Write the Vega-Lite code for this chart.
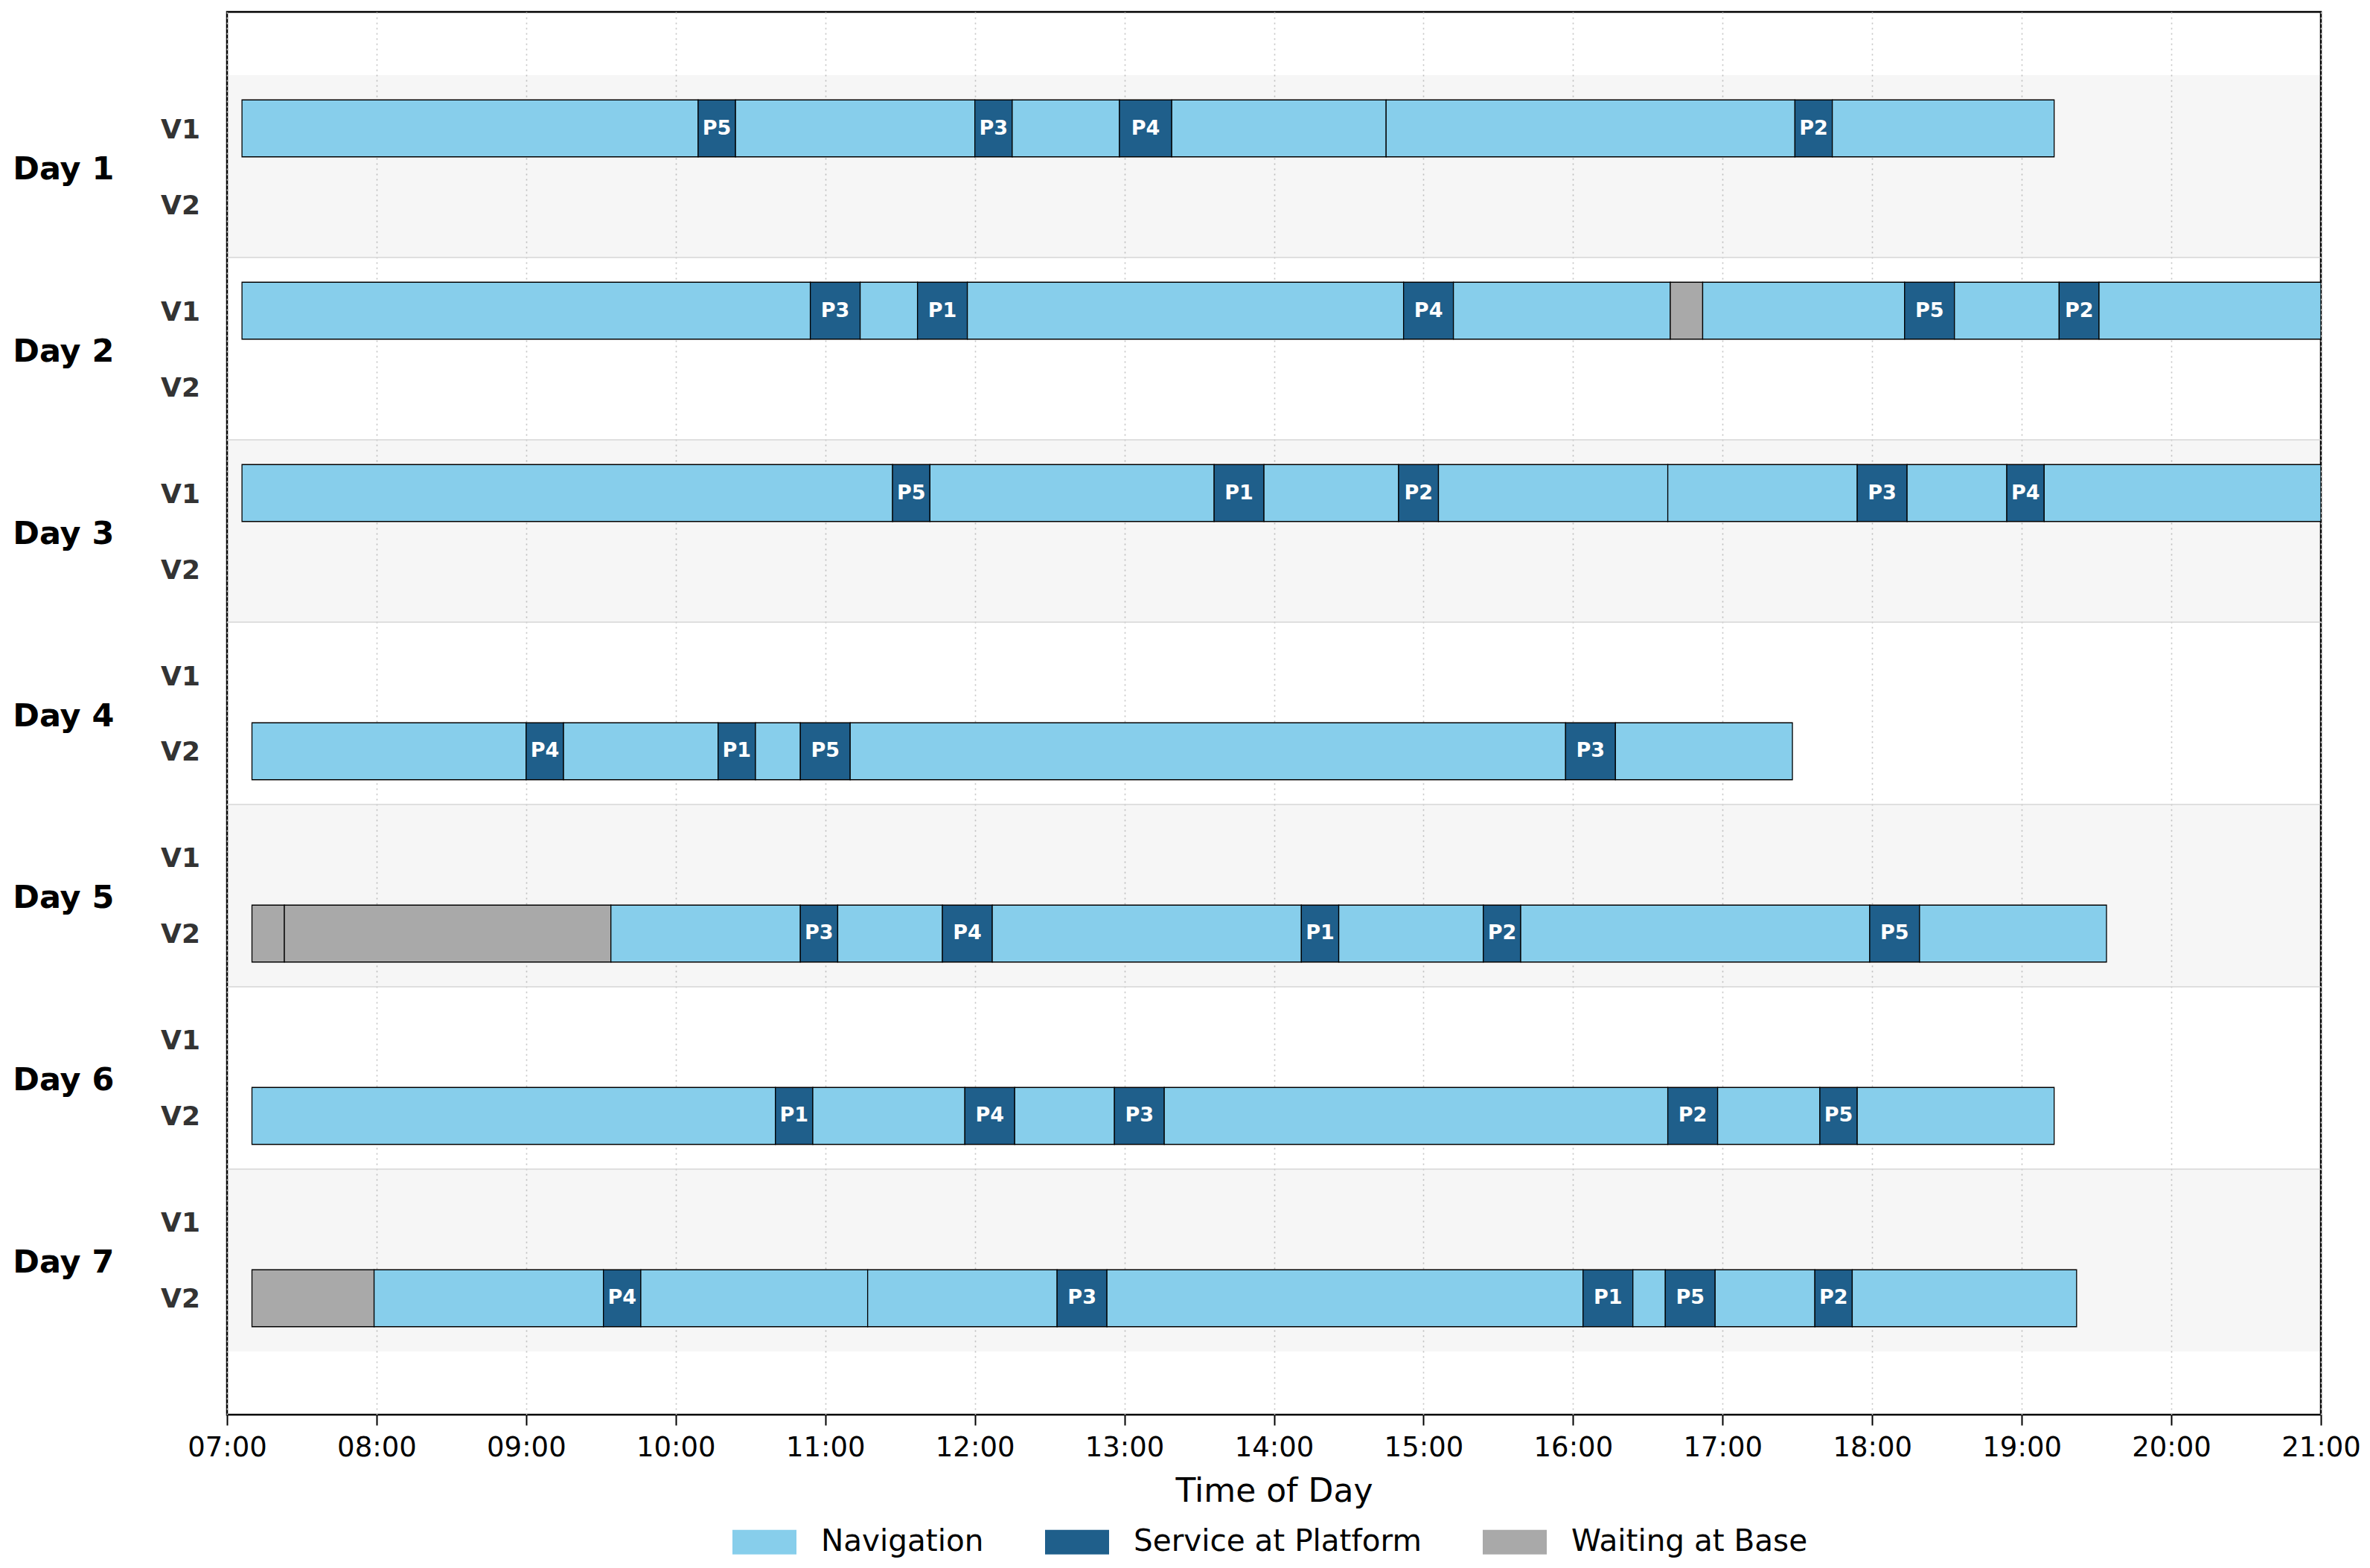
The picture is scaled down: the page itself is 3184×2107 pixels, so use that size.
{
  "$schema": "https://vega.github.io/schema/vega-lite/v6.json",
  "width": 2813,
  "height": 1885,
  "autosize": {"type": "none"},
  "padding": {"left": 305, "top": 16, "right": 66, "bottom": 206},
  "background": "white",
  "config": {"font": "DejaVu Sans", "view": {"stroke": "black", "strokeWidth": 2.5}},
  "resolve": {"axis": {"x": "independent", "y": "independent"}},
  "data": {
    "format": {"parse": {"s": "date:'%H:%M'", "e": "date:'%H:%M'"}},
    "values": [
      {"d": "Day 1", "v": "V1", "s": "07:06", "e": "10:09", "a": "Navigation", "p": ""},
      {"d": "Day 1", "v": "V1", "s": "10:09", "e": "10:24", "a": "Service at Platform", "p": "P5"},
      {"d": "Day 1", "v": "V1", "s": "10:24", "e": "12:00", "a": "Navigation", "p": ""},
      {"d": "Day 1", "v": "V1", "s": "12:00", "e": "12:15", "a": "Service at Platform", "p": "P3"},
      {"d": "Day 1", "v": "V1", "s": "12:15", "e": "12:58", "a": "Navigation", "p": ""},
      {"d": "Day 1", "v": "V1", "s": "12:58", "e": "13:19", "a": "Service at Platform", "p": "P4"},
      {"d": "Day 1", "v": "V1", "s": "13:19", "e": "14:45", "a": "Navigation", "p": ""},
      {"d": "Day 1", "v": "V1", "s": "14:45", "e": "17:29", "a": "Navigation", "p": ""},
      {"d": "Day 1", "v": "V1", "s": "17:29", "e": "17:44", "a": "Service at Platform", "p": "P2"},
      {"d": "Day 1", "v": "V1", "s": "17:44", "e": "19:13", "a": "Navigation", "p": ""},

      {"d": "Day 2", "v": "V1", "s": "07:06", "e": "10:54", "a": "Navigation", "p": ""},
      {"d": "Day 2", "v": "V1", "s": "10:54", "e": "11:14", "a": "Service at Platform", "p": "P3"},
      {"d": "Day 2", "v": "V1", "s": "11:14", "e": "11:37", "a": "Navigation", "p": ""},
      {"d": "Day 2", "v": "V1", "s": "11:37", "e": "11:57", "a": "Service at Platform", "p": "P1"},
      {"d": "Day 2", "v": "V1", "s": "11:57", "e": "14:52", "a": "Navigation", "p": ""},
      {"d": "Day 2", "v": "V1", "s": "14:52", "e": "15:12", "a": "Service at Platform", "p": "P4"},
      {"d": "Day 2", "v": "V1", "s": "15:12", "e": "16:39", "a": "Navigation", "p": ""},
      {"d": "Day 2", "v": "V1", "s": "16:39", "e": "16:52", "a": "Waiting at Base", "p": ""},
      {"d": "Day 2", "v": "V1", "s": "16:52", "e": "18:13", "a": "Navigation", "p": ""},
      {"d": "Day 2", "v": "V1", "s": "18:13", "e": "18:33", "a": "Service at Platform", "p": "P5"},
      {"d": "Day 2", "v": "V1", "s": "18:33", "e": "19:15", "a": "Navigation", "p": ""},
      {"d": "Day 2", "v": "V1", "s": "19:15", "e": "19:31", "a": "Service at Platform", "p": "P2"},
      {"d": "Day 2", "v": "V1", "s": "19:31", "e": "21:00", "a": "Navigation", "p": ""},

      {"d": "Day 3", "v": "V1", "s": "07:06", "e": "11:27", "a": "Navigation", "p": ""},
      {"d": "Day 3", "v": "V1", "s": "11:27", "e": "11:42", "a": "Service at Platform", "p": "P5"},
      {"d": "Day 3", "v": "V1", "s": "11:42", "e": "13:36", "a": "Navigation", "p": ""},
      {"d": "Day 3", "v": "V1", "s": "13:36", "e": "13:56", "a": "Service at Platform", "p": "P1"},
      {"d": "Day 3", "v": "V1", "s": "13:56", "e": "14:50", "a": "Navigation", "p": ""},
      {"d": "Day 3", "v": "V1", "s": "14:50", "e": "15:06", "a": "Service at Platform", "p": "P2"},
      {"d": "Day 3", "v": "V1", "s": "15:06", "e": "16:38", "a": "Navigation", "p": ""},
      {"d": "Day 3", "v": "V1", "s": "16:38", "e": "17:54", "a": "Navigation", "p": ""},
      {"d": "Day 3", "v": "V1", "s": "17:54", "e": "18:14", "a": "Service at Platform", "p": "P3"},
      {"d": "Day 3", "v": "V1", "s": "18:14", "e": "18:54", "a": "Navigation", "p": ""},
      {"d": "Day 3", "v": "V1", "s": "18:54", "e": "19:09", "a": "Service at Platform", "p": "P4"},
      {"d": "Day 3", "v": "V1", "s": "19:09", "e": "21:00", "a": "Navigation", "p": ""},

      {"d": "Day 4", "v": "V2", "s": "07:10", "e": "09:00", "a": "Navigation", "p": ""},
      {"d": "Day 4", "v": "V2", "s": "09:00", "e": "09:15", "a": "Service at Platform", "p": "P4"},
      {"d": "Day 4", "v": "V2", "s": "09:15", "e": "10:17", "a": "Navigation", "p": ""},
      {"d": "Day 4", "v": "V2", "s": "10:17", "e": "10:32", "a": "Service at Platform", "p": "P1"},
      {"d": "Day 4", "v": "V2", "s": "10:32", "e": "10:50", "a": "Navigation", "p": ""},
      {"d": "Day 4", "v": "V2", "s": "10:50", "e": "11:10", "a": "Service at Platform", "p": "P5"},
      {"d": "Day 4", "v": "V2", "s": "11:10", "e": "15:57", "a": "Navigation", "p": ""},
      {"d": "Day 4", "v": "V2", "s": "15:57", "e": "16:17", "a": "Service at Platform", "p": "P3"},
      {"d": "Day 4", "v": "V2", "s": "16:17", "e": "17:28", "a": "Navigation", "p": ""},

      {"d": "Day 5", "v": "V2", "s": "07:10", "e": "07:23", "a": "Waiting at Base", "p": ""},
      {"d": "Day 5", "v": "V2", "s": "07:23", "e": "09:34", "a": "Waiting at Base", "p": ""},
      {"d": "Day 5", "v": "V2", "s": "09:34", "e": "10:50", "a": "Navigation", "p": ""},
      {"d": "Day 5", "v": "V2", "s": "10:50", "e": "11:05", "a": "Service at Platform", "p": "P3"},
      {"d": "Day 5", "v": "V2", "s": "11:05", "e": "11:47", "a": "Navigation", "p": ""},
      {"d": "Day 5", "v": "V2", "s": "11:47", "e": "12:07", "a": "Service at Platform", "p": "P4"},
      {"d": "Day 5", "v": "V2", "s": "12:07", "e": "14:11", "a": "Navigation", "p": ""},
      {"d": "Day 5", "v": "V2", "s": "14:11", "e": "14:26", "a": "Service at Platform", "p": "P1"},
      {"d": "Day 5", "v": "V2", "s": "14:26", "e": "15:24", "a": "Navigation", "p": ""},
      {"d": "Day 5", "v": "V2", "s": "15:24", "e": "15:39", "a": "Service at Platform", "p": "P2"},
      {"d": "Day 5", "v": "V2", "s": "15:39", "e": "17:59", "a": "Navigation", "p": ""},
      {"d": "Day 5", "v": "V2", "s": "17:59", "e": "18:19", "a": "Service at Platform", "p": "P5"},
      {"d": "Day 5", "v": "V2", "s": "18:19", "e": "19:34", "a": "Navigation", "p": ""},

      {"d": "Day 6", "v": "V2", "s": "07:10", "e": "10:40", "a": "Navigation", "p": ""},
      {"d": "Day 6", "v": "V2", "s": "10:40", "e": "10:55", "a": "Service at Platform", "p": "P1"},
      {"d": "Day 6", "v": "V2", "s": "10:55", "e": "11:56", "a": "Navigation", "p": ""},
      {"d": "Day 6", "v": "V2", "s": "11:56", "e": "12:16", "a": "Service at Platform", "p": "P4"},
      {"d": "Day 6", "v": "V2", "s": "12:16", "e": "12:56", "a": "Navigation", "p": ""},
      {"d": "Day 6", "v": "V2", "s": "12:56", "e": "13:16", "a": "Service at Platform", "p": "P3"},
      {"d": "Day 6", "v": "V2", "s": "13:16", "e": "16:38", "a": "Navigation", "p": ""},
      {"d": "Day 6", "v": "V2", "s": "16:38", "e": "16:58", "a": "Service at Platform", "p": "P2"},
      {"d": "Day 6", "v": "V2", "s": "16:58", "e": "17:39", "a": "Navigation", "p": ""},
      {"d": "Day 6", "v": "V2", "s": "17:39", "e": "17:54", "a": "Service at Platform", "p": "P5"},
      {"d": "Day 6", "v": "V2", "s": "17:54", "e": "19:13", "a": "Navigation", "p": ""},

      {"d": "Day 7", "v": "V2", "s": "07:10", "e": "07:59", "a": "Waiting at Base", "p": ""},
      {"d": "Day 7", "v": "V2", "s": "07:59", "e": "09:31", "a": "Navigation", "p": ""},
      {"d": "Day 7", "v": "V2", "s": "09:31", "e": "09:46", "a": "Service at Platform", "p": "P4"},
      {"d": "Day 7", "v": "V2", "s": "09:46", "e": "11:17", "a": "Navigation", "p": ""},
      {"d": "Day 7", "v": "V2", "s": "11:17", "e": "12:33", "a": "Navigation", "p": ""},
      {"d": "Day 7", "v": "V2", "s": "12:33", "e": "12:53", "a": "Service at Platform", "p": "P3"},
      {"d": "Day 7", "v": "V2", "s": "12:53", "e": "16:04", "a": "Navigation", "p": ""},
      {"d": "Day 7", "v": "V2", "s": "16:04", "e": "16:24", "a": "Service at Platform", "p": "P1"},
      {"d": "Day 7", "v": "V2", "s": "16:24", "e": "16:37", "a": "Navigation", "p": ""},
      {"d": "Day 7", "v": "V2", "s": "16:37", "e": "16:57", "a": "Service at Platform", "p": "P5"},
      {"d": "Day 7", "v": "V2", "s": "16:57", "e": "17:37", "a": "Navigation", "p": ""},
      {"d": "Day 7", "v": "V2", "s": "17:37", "e": "17:52", "a": "Service at Platform", "p": "P2"},
      {"d": "Day 7", "v": "V2", "s": "17:52", "e": "19:22", "a": "Navigation", "p": ""}
    ]
  },
  "layer": [
    {
      "data": {"values": [{"d": "Day 1"}, {"d": "Day 3"}, {"d": "Day 5"}, {"d": "Day 7"}]},
      "mark": {"type": "rect", "color": "black", "opacity": 0.035},
      "encoding": {
        "y": {"field": "d", "type": "nominal", "axis": null,
              "scale": {"domain": ["Day 1", "Day 2", "Day 3", "Day 4", "Day 5", "Day 6", "Day 7"], "paddingInner": 0, "paddingOuter": 0.347}},
        "x": {"datum": {"year": 1900, "month": 1, "date": 1, "hours": 7}, "type": "temporal", "axis": null},
        "x2": {"datum": {"year": 1900, "month": 1, "date": 1, "hours": 21}}
      }
    },
    {
      "data": {"values": [{"d": "Day 2"}, {"d": "Day 3"}, {"d": "Day 4"}, {"d": "Day 5"}, {"d": "Day 6"}, {"d": "Day 7"}]},
      "mark": {"type": "rule", "color": "#d6d6d6", "strokeWidth": 1.5},
      "encoding": {
        "y": {"field": "d", "type": "nominal", "bandPosition": 0, "axis": null}
      }
    },
    {
      "mark": {"type": "bar", "stroke": "black", "strokeWidth": 1.3, "opacity": 1, "clip": true},
      "encoding": {
        "y": {"field": "d", "type": "nominal", "title": null,
              "scale": {"domain": ["Day 1", "Day 2", "Day 3", "Day 4", "Day 5", "Day 6", "Day 7"], "paddingInner": 0, "paddingOuter": 0.347},
              "axis": {"ticks": false, "domain": false, "grid": false, "labelPadding": 152, "labelOffset": 4, "labelFontSize": 43, "labelFontWeight": "bold", "labelColor": "black"}},
        "yOffset": {"field": "v", "type": "nominal", "scale": {"domain": ["V1", "V2"], "paddingInner": 0.25, "paddingOuter": 0.326}},
        "x": {"field": "s", "type": "temporal", "title": "Time of Day",
              "scale": {"domain": [{"year": 1900, "month": 1, "date": 1, "hours": 7}, {"year": 1900, "month": 1, "date": 1, "hours": 21}]},
              "axis": {"format": "%H:%M", "tickCount": 14, "labelFontSize": 37, "labelColor": "black", "labelPadding": 12,
                       "tickSize": 14, "tickWidth": 2, "tickColor": "black", "domain": false,
                       "grid": true, "gridColor": "#c4c4c4", "gridDash": [2, 5], "gridWidth": 1.6,
                       "titleFontSize": 44, "titleFontWeight": "normal", "titleColor": "black", "titlePadding": 19, "labelFlush": false}},
        "x2": {"field": "e"},
        "color": {"field": "a", "type": "nominal",
                  "scale": {"domain": ["Navigation", "Service at Platform", "Waiting at Base"], "range": ["#87ceeb", "#1f5f8b", "#a9a9a9"]},
                  "legend": {"title": null, "orient": "none", "legendX": 679, "legendY": 2013, "direction": "horizontal",
                             "symbolType": "M-1,-0.384L1,-0.384L1,0.384L-1,0.384Z", "symbolSize": 7396, "symbolStrokeWidth": 0, "symbolOpacity": 1,
                             "labelFontSize": 40.5, "labelColor": "black", "labelOffset": 33, "labelLimit": 700, "columnPadding": 82, "padding": 0}}
      }
    },
    {
      "transform": [
        {"filter": "datum.a === 'Service at Platform'"},
        {"calculate": "(toNumber(datum.s) + toNumber(datum.e)) / 2", "as": "mid"}
      ],
      "mark": {"type": "text", "color": "white", "fontWeight": "bold", "fontSize": 27, "baseline": "middle", "align": "center"},
      "encoding": {
        "y": {"field": "d", "type": "nominal", "axis": null},
        "yOffset": {"field": "v", "type": "nominal"},
        "x": {"field": "mid", "type": "temporal", "axis": null},
        "text": {"field": "p"}
      }
    },
    {
      "data": {"values": [
        {"d": "Day 1", "v": "V1"}, {"d": "Day 1", "v": "V2"},
        {"d": "Day 2", "v": "V1"}, {"d": "Day 2", "v": "V2"},
        {"d": "Day 3", "v": "V1"}, {"d": "Day 3", "v": "V2"},
        {"d": "Day 4", "v": "V1"}, {"d": "Day 4", "v": "V2"},
        {"d": "Day 5", "v": "V1"}, {"d": "Day 5", "v": "V2"},
        {"d": "Day 6", "v": "V1"}, {"d": "Day 6", "v": "V2"},
        {"d": "Day 7", "v": "V1"}, {"d": "Day 7", "v": "V2"}
      ]},
      "mark": {"type": "text", "color": "#333333", "fontWeight": "bold", "fontSize": 36, "baseline": "middle", "align": "right", "dx": -36, "dy": 2},
      "encoding": {
        "y": {"field": "d", "type": "nominal", "axis": null},
        "yOffset": {"field": "v", "type": "nominal"},
        "x": {"datum": {"year": 1900, "month": 1, "date": 1, "hours": 7}, "type": "temporal", "axis": null},
        "text": {"field": "v"}
      }
    }
  ]
}
